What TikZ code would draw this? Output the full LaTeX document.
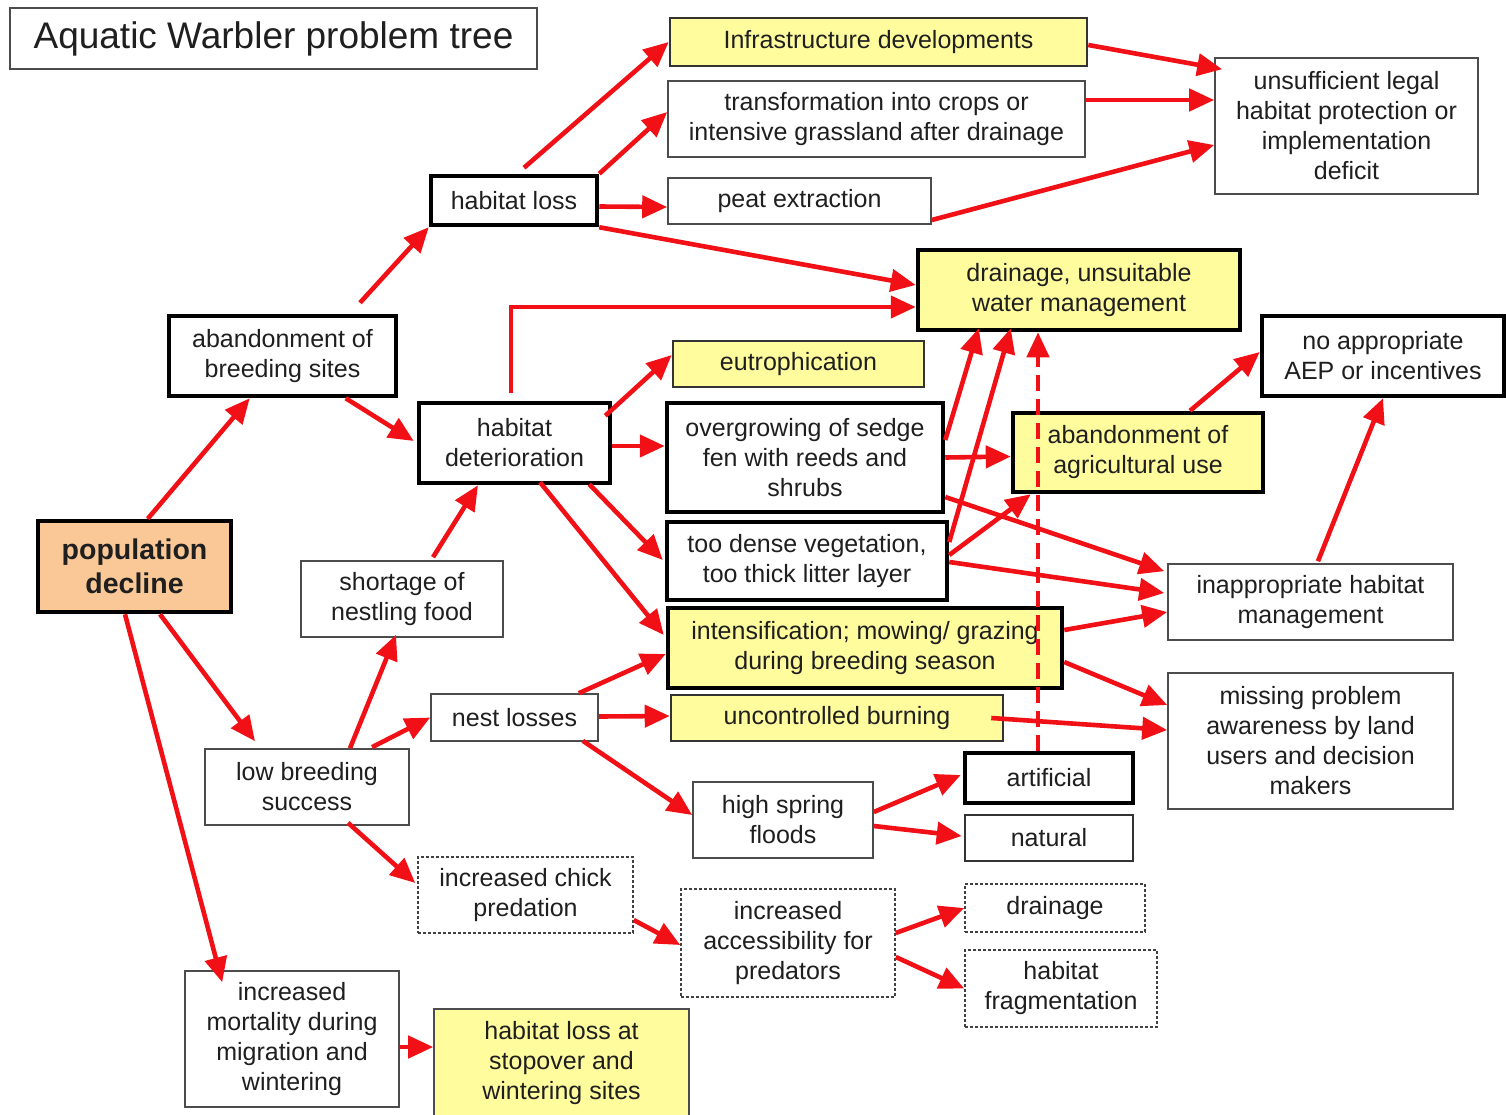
\documentclass[tikz,border=0pt]{standalone}
\usepackage{fontspec}
\setmainfont{Liberation Sans}
\usetikzlibrary{arrows.meta}
\definecolor{ared}{RGB}{240,16,22}
\definecolor{ayel}{RGB}{255,252,158}
\definecolor{aorg}{RGB}{250,200,150}
\begin{document}
\begin{tikzpicture}[x=1pt,y=-1pt,
 box/.style={rectangle, inner sep=0pt, align=center, text=black!88, font=\fontsize{25}{30}\selectfont},
 thinb/.style={box, draw=black!70, line width=1.6pt, fill=white},
 medb/.style={box, draw=black!80, line width=2.6pt, fill=white},
 thickb/.style={box, draw=black, line width=4.5pt, fill=white},
 dashb/.style={box, draw=black!75, line width=1.5pt, dash pattern=on 3pt off 2pt, fill=white},
 yel/.style={fill=ayel},
 wh/.style 2 args={minimum width=#1pt, minimum height=#2pt},
 arr/.style={draw=ared, line width=4.6pt, -{Triangle[length=25pt,width=22pt]}},
 darr/.style={arr, dash pattern=on 16pt off 8pt},
]
\fill[white] (0,0) rectangle (1506,1114);
\useasboundingbox (0,0) rectangle (1506,1114);

% nodes
\node[thinb, wh={527}{61}, font=\fontsize{37}{44}\selectfont] (title) at (273.5,38.5) {Aquatic Warbler problem tree};
\node[medb, yel, wh={417}{48}] (infra) at (878.5,42) {Infrastructure developments};
\node[thinb, wh={417}{76}] (trans) at (876.5,119) {transformation into crops or\\intensive grassland after drainage};
\node[thinb, wh={263}{46}] (peat) at (799.5,201) {peat extraction};
\node[thinb, wh={263}{136}] (unsuf) at (1346.5,126) {unsufficient legal\\habitat protection or\\implementation\\deficit};
\node[thickb, wh={166}{49}] (hloss) at (514,200.5) {habitat loss};
\node[thickb, yel, wh={322}{80}] (drain) at (1079,290) {drainage, unsuitable\\water management};
\node[thickb, wh={227}{80}] (abbreed) at (282.5,356) {abandonment of\\breeding sites};
\node[medb, yel, wh={251}{46}] (eutro) at (798.5,364) {eutrophication};
\node[thickb, wh={242}{80}] (aep) at (1383,356) {no appropriate\\AEP or incentives};
\node[thickb, wh={191}{80}] (hdet) at (514.5,443) {habitat\\deterioration};
\node[thickb, wh={276}{109}] (overg) at (805,457.5) {overgrowing of sedge\\fen with reeds and\\shrubs};
\node[thickb, yel, wh={250}{79}] (abagri) at (1138,452.5) {abandonment of\\agricultural use};
\node[thickb, fill=aorg, wh={193}{91}, font=\bfseries\fontsize{28.5}{34}\selectfont] (popdec) at (134.5,566.5) {population\\decline};
\node[thickb, wh={280}{78}] (dense) at (807,561) {too dense vegetation,\\too thick litter layer};
\node[thinb, wh={202}{76}] (short) at (402,599) {shortage of\\nestling food};
\node[thinb, wh={285}{76}] (inapp) at (1310.5,602) {inappropriate habitat\\management};
\node[thickb, yel, wh={394}{80}] (intens) at (865,648) {intensification; mowing/ grazing\\during breeding season};
\node[thinb, wh={167}{47}] (nest) at (514.5,717.5) {nest losses};
\node[medb, yel, wh={332}{46}] (burn) at (837,718) {uncontrolled burning};
\node[thinb, wh={285}{136}] (missing) at (1310.5,741) {missing problem\\awareness by land\\users and decision\\makers};
\node[thinb, wh={204}{76}] (lowb) at (307,787) {low breeding\\success};
\node[thickb, wh={168}{50}] (artif) at (1049,778) {artificial};
\node[thinb, wh={180}{76}] (floods) at (783,820) {high spring\\floods};
\node[medb, wh={168}{46}] (natural) at (1049,838) {natural};
\node[dashb, wh={215}{76}] (chick) at (525.5,895) {increased chick\\predation};
\node[dashb, wh={214}{108}] (access) at (788,943) {increased\\accessibility for\\predators};
\node[dashb, wh={180}{48}] (drain2) at (1055,908) {drainage};
\node[dashb, wh={192}{77}] (frag) at (1061,988.5) {habitat\\fragmentation};
\node[thinb, wh={214}{136}] (mort) at (292,1039) {increased\\mortality during\\migration and\\wintering};
\node[thinb, yel, wh={255}{109}] (stop) at (561.5,1063.5) {habitat loss at\\stopover and\\wintering sites};

% connectors
\draw[arr] ([shift={(112,0)}]popdec.north west) -- ([shift={(83,0)}]abbreed.south west);
\draw[arr] ([shift={(77.5,-11)}]abbreed.north) -- (hloss.south west);
\draw[arr] ([shift={(179,0)}]abbreed.south west) -- ([shift={(-3,-2)}]hdet.west);
\draw[arr] ([shift={(10,-6)}]hloss.north) -- (infra.west);
\draw[arr] (hloss.north east) -- ([shift={(0,-7)}]trans.west);
\draw[arr] ([shift={(0,6)}]hloss.east) -- ([shift={(0,6)}]peat.west);
\draw[arr] (hloss.south east) -- ([shift={(0,-5)}]drain.west);
\draw[arr] ([shift={(0,3)}]infra.east) -- ([shift={(8,12)}]unsuf.north west);
\draw[arr] ([shift={(0,-19)}]trans.east) -- ([shift={(0,-26)}]unsuf.west);
\draw[arr] ([shift={(0,19)}]peat.east) -- ([shift={(0,19)}]unsuf.west);
\draw[arr] ([shift={(-3.5,-8)}]hdet.north) |- ([shift={(0,17)}]drain.west);
\draw[arr] ([shift={(-7,15)}]hdet.north east) -- ([shift={(0,-9)}]eutro.west);
\draw[arr] ([shift={(0,3)}]hdet.east) -- ([shift={(0,-11.5)}]overg.west);
\draw[arr] ([shift={(-23,-1)}]hdet.south east) -- ([shift={(-2,-1)}]dense.west);
\draw[arr] ([shift={(25.5,-3)}]hdet.south) -- ([shift={(-2,-13)}]intens.west);
\draw[arr] ([shift={(31,-3)}]short.north) -- ([shift={(-36.5,0)}]hdet.south);
\draw[arr] ([shift={(25.5,0)}]popdec.south) -- ([shift={(-52,-7)}]lowb.north);
\draw[arr] ([shift={(-9.5,0)}]popdec.south) -- ([shift={(38,12)}]mort.north west);
\draw[arr] ([shift={(43,0)}]lowb.north) -- ([shift={(-6,-3)}]short.south);
\draw[arr] ([shift={(65,-1)}]lowb.north) -- (nest.west);
\draw[arr] ([shift={(41,-3)}]lowb.south) -- ([shift={(-2,-12)}]chick.west);
\draw[arr] ([shift={(-20,0)}]nest.north east) -- ([shift={(0,6)}]intens.west);
\draw[arr] ([shift={(0,-1)}]nest.east) -- ([shift={(0,-2)}]burn.west);
\draw[arr] ([shift={(-16,-1)}]nest.south east) -- ([shift={(0,-5)}]floods.west);
\draw[arr] ([shift={(0,-17.5)}]overg.east) -- ([shift={(63,-4)}]drain.south west);
\draw[arr] (overg.east) -- ([shift={(0,4)}]abagri.west);
\draw[arr] ([shift={(0,39.5)}]overg.east) -- ([shift={(-3,8)}]inapp.north west);
\draw[arr] ([shift={(0,-19)}]dense.east) -- ([shift={(95,-4)}]drain.south west);
\draw[arr] ([shift={(0,-6)}]dense.east) -- ([shift={(20,0)}]abagri.south west);
\draw[arr] ([shift={(0,1)}]dense.east) -- ([shift={(-3,-9)}]inapp.west);
\draw[arr] ([shift={(0,-18)}]intens.east) -- ([shift={(0,10)}]inapp.west);
\draw[arr] ([shift={(0,14)}]intens.east) -- ([shift={(0,-36)}]missing.west);
\draw[arr] ([shift={(-13,0)}]burn.east) -- ([shift={(0,-11)}]missing.west);
\draw[arr] ([shift={(52,0)}]abagri.north) -- ([shift={(0,-4)}]aep.west);
\draw[arr] ([shift={(7.5,-2)}]inapp.north) -- (aep.south);
\draw[arr] ([shift={(0,-8)}]floods.east) -- ([shift={(-2,-3)}]artif.west);
\draw[arr] ([shift={(0,6)}]floods.east) -- ([shift={(-2,-2)}]natural.west);
\draw[arr] ([shift={(0,25)}]chick.east) -- ([shift={(0,2)}]access.west);
\draw[arr] ([shift={(0,-10)}]access.east) -- (drain2.west);
\draw[arr] ([shift={(0,14)}]access.east) -- (frag.west);
\draw[arr] ([shift={(0,8)}]mort.east) -- ([shift={(0,-16.5)}]stop.west);
\draw[darr] ([shift={(-11,0)}]artif.north) -- ([shift={(-41,0)}]drain.south);
\end{tikzpicture}
\end{document}
